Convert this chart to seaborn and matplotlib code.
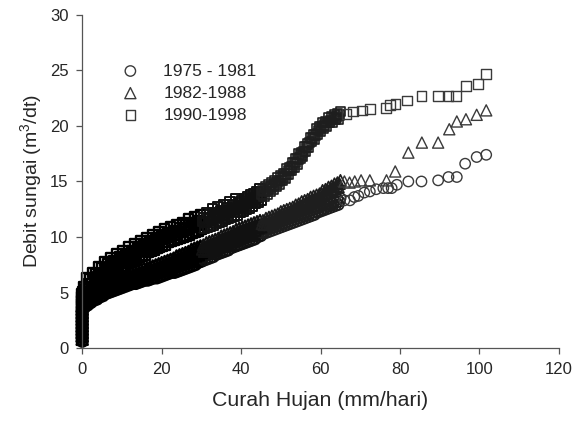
import numpy as np
import pandas as pd
import matplotlib
matplotlib.use('Agg')
import matplotlib.pyplot as plt
import seaborn as sns

# Curah hujan harian (mm/hari) - kelas yang dipakai bersama oleh ketiga periode
curah = [0.5, 1.0, 1.5, 2.0, 2.5, 3.0, 3.5, 4.0, 4.5, 5.0,
         5.5, 6.0, 6.5, 7.0, 7.5, 8.0, 8.5, 9.0, 9.5, 10.0,
         10.5, 11.0, 11.5, 12.0, 12.5, 13.0, 13.5, 14.0, 14.5, 15.0,
         15.5, 16.0, 16.5, 17.0, 17.5, 18.0, 18.5, 19.0, 19.5, 20.0,
         20.5, 21.0, 21.5, 22.0, 22.5, 23.0, 23.5, 24.0, 24.5, 25.0,
         25.5, 26.0, 26.5, 27.0, 27.5, 28.0, 28.5, 29.0, 29.5, 30.0,
         30.5, 31.0, 31.5, 32.0, 32.5, 33.0, 33.5, 34.0, 34.5, 35.0,
         35.5, 36.0, 36.5, 37.0, 37.5, 38.0, 38.5, 39.0, 39.5, 40.0,
         40.5, 41.0, 41.5, 42.0, 42.5, 43.0, 43.5, 44.0, 44.5, 45.0,
         45.5, 46.0, 46.5, 47.0, 47.5, 48.0, 48.5, 49.0, 49.5, 50.0,
         50.5, 51.0, 51.5, 52.0, 52.5, 53.0, 53.5, 54.0, 54.5, 55.0,
         55.5, 56.0, 56.5, 57.0, 57.5, 58.0, 58.5, 59.0, 59.5, 60.0,
         60.5, 61.0, 61.5, 62.0, 62.5, 63.0, 63.5, 64.0, 64.5, 65.0]

# Debit (m3/dt) periode 1975 - 1981
debit_75 = [4.3, 4.1, 3.9, 4.8, 4.5, 4.3, 5.1, 4.9, 4.6, 5.4,
            5.1, 4.9, 5.6, 5.4, 5.1, 5.9, 5.6, 5.3, 6.1, 5.8,
            5.5, 6.3, 6.0, 5.7, 6.4, 6.1, 5.8, 6.6, 6.3, 6.0,
            6.8, 6.4, 6.1, 6.9, 6.6, 6.3, 7.0, 6.7, 6.4, 7.2,
            6.9, 6.6, 7.3, 7.0, 6.8, 7.5, 7.2, 6.9, 7.7, 7.4,
            7.1, 7.9, 7.6, 7.3, 8.1, 7.8, 7.5, 8.3, 8.0, 7.8,
            8.5, 8.3, 8.0, 8.8, 8.5, 8.2, 9.0, 8.7, 8.5, 9.3,
            9.0, 8.7, 9.5, 9.2, 9.0, 9.7, 9.5, 9.2, 10.0, 9.7,
            9.4, 10.2, 9.9, 9.6, 10.4, 10.1, 9.8, 10.6, 10.3, 10.1,
            10.7, 10.5, 10.4, 10.9, 10.8, 10.6, 11.1, 11.0, 10.8, 11.4,
            11.2, 11.0, 11.6, 11.4, 11.2, 11.8, 11.6, 11.4, 12.0, 11.8,
            11.6, 12.2, 12.0, 11.8, 12.4, 12.2, 12.0, 12.6, 12.4, 12.3,
            12.8, 12.6, 12.5, 13.0, 12.9, 12.7, 13.2, 13.1, 12.9, 13.5]

# Debit (m3/dt) periode 1982-1988
debit_82 = [4.6, 4.5, 4.3, 5.2, 4.9, 4.7, 5.4, 5.2, 5.0, 5.8,
            5.5, 5.2, 5.9, 5.7, 5.4, 6.2, 5.9, 5.6, 6.4, 6.1,
            5.8, 6.6, 6.3, 6.0, 6.8, 6.5, 6.2, 7.0, 6.7, 6.4,
            7.2, 6.9, 6.6, 7.3, 7.0, 6.7, 7.5, 7.2, 6.9, 7.7,
            7.4, 7.1, 7.9, 7.6, 7.4, 8.1, 7.9, 7.6, 8.4, 8.1,
            7.8, 8.6, 8.3, 8.1, 8.9, 8.6, 8.3, 9.1, 8.8, 8.6,
            9.3, 9.1, 8.8, 9.6, 9.3, 9.0, 9.8, 9.5, 9.3, 10.1,
            9.8, 9.5, 10.3, 10.0, 9.8, 10.5, 10.3, 10.0, 10.8, 10.5,
            10.2, 11.0, 10.7, 10.4, 11.2, 10.9, 10.6, 11.4, 11.1, 10.9,
            11.5, 11.4, 11.2, 11.8, 11.6, 11.4, 12.0, 11.8, 11.7, 12.3,
            12.1, 11.9, 12.5, 12.3, 12.2, 12.7, 12.6, 12.4, 13.0, 12.8,
            12.7, 13.3, 13.1, 13.0, 13.6, 13.4, 13.2, 13.8, 13.6, 13.5,
            14.2, 14.0, 13.9, 14.5, 14.3, 14.2, 14.8, 14.6, 14.5, 15.1]

# Debit (m3/dt) periode 1990-1998
debit_90 = [5.5, 5.3, 5.0, 6.2, 5.8, 5.5, 6.7, 6.4, 6.0, 7.2,
            6.8, 6.5, 7.6, 7.2, 6.8, 7.9, 7.5, 7.1, 8.2, 7.8,
            7.4, 8.5, 8.1, 7.7, 8.8, 8.4, 8.0, 9.1, 8.7, 8.3,
            9.4, 9.0, 8.6, 9.7, 9.3, 8.8, 9.9, 9.5, 9.1, 10.2,
            9.8, 9.3, 10.4, 10.0, 9.6, 10.6, 10.2, 9.8, 10.8, 10.4,
            10.0, 11.1, 10.6, 10.2, 11.3, 10.9, 10.4, 11.5, 11.1, 10.7,
            11.7, 11.3, 10.9, 12.0, 11.5, 11.1, 12.2, 11.8, 11.3, 12.4,
            12.0, 11.6, 12.6, 12.2, 11.8, 12.9, 12.5, 12.0, 13.1, 12.7,
            12.3, 13.4, 13.0, 12.6, 13.8, 13.4, 13.0, 14.1, 13.7, 13.3,
            14.2, 14.1, 13.9, 14.7, 14.5, 14.3, 15.1, 14.9, 14.8, 15.5,
            15.4, 15.3, 16.1, 16.0, 16.0, 16.7, 16.7, 16.6, 17.5, 17.4,
            17.3, 18.1, 18.1, 18.1, 18.9, 18.9, 18.8, 19.7, 19.6, 19.5,
            20.3, 20.1, 20.0, 20.7, 20.5, 20.3, 21.0, 20.8, 20.6, 21.3]

# kelas curah hujan sela (data harian yang bertumpuk rapat)
curah_sela = [0.25, 0.75, 1.25, 1.75, 2.25, 2.75, 3.25, 3.75, 4.25, 4.75,
              5.25, 5.75, 6.25, 6.75, 7.25, 7.75, 8.25, 8.75, 9.25, 9.75,
              10.25, 10.75, 11.25, 11.75, 12.25, 12.75, 13.25, 13.75, 14.25, 14.75,
              15.25, 15.75, 16.25, 16.75, 17.25, 17.75, 18.25, 18.75, 19.25, 19.75,
              20.25, 20.75, 21.25, 21.75, 22.25, 22.75, 23.25, 23.75, 24.25, 24.75,
              25.25, 25.75, 26.25, 26.75, 27.25, 27.75, 28.25, 28.75, 29.25, 29.75,
              30.25, 30.75, 31.25, 31.75, 32.25, 32.75, 33.25, 33.75, 34.25, 34.75,
              35.25, 35.75, 36.25, 36.75, 37.25, 37.75, 38.25, 38.75, 39.25, 39.75,
              40.25, 40.75, 41.25, 41.75, 42.25, 42.75, 43.25, 43.75, 44.25, 44.75,
              45.25, 45.75, 46.25, 46.75, 47.25, 47.75, 48.25, 48.75, 49.25, 49.75,
              50.25, 50.75, 51.25, 51.75, 52.25, 52.75, 53.25, 53.75, 54.25, 54.75,
              55.25, 55.75, 56.25, 56.75, 57.25, 57.75, 58.25, 58.75, 59.25, 59.75,
              60.25, 60.75, 61.25, 61.75, 62.25, 62.75, 63.25, 63.75, 64.25, 64.75]

sela_75 = [3.8, 3.7, 4.5, 4.3, 4.1, 4.9, 4.7, 4.4, 5.3, 5.0,
           4.7, 5.5, 5.2, 5.0, 5.7, 5.5, 5.2, 6.0, 5.7, 5.4,
           6.2, 5.9, 5.6, 6.4, 6.1, 5.8, 6.5, 6.2, 5.9, 6.7,
           6.4, 6.1, 6.8, 6.5, 6.2, 7.0, 6.7, 6.3, 7.1, 6.8,
           6.5, 7.2, 7.0, 6.7, 7.4, 7.1, 6.8, 7.6, 7.3, 7.0,
           7.8, 7.5, 7.2, 8.0, 7.7, 7.4, 8.2, 7.9, 7.7, 8.4,
           8.1, 7.9, 8.7, 8.4, 8.1, 8.9, 8.6, 8.4, 9.1, 8.9,
           8.6, 9.4, 9.1, 8.8, 9.6, 9.3, 9.1, 9.9, 9.6, 9.3,
           10.1, 9.8, 9.5, 10.3, 10.0, 9.7, 10.5, 10.2, 10.0, 10.7,
           10.4, 10.3, 10.8, 10.7, 10.5, 11.0, 10.9, 10.7, 11.3, 11.1,
           10.9, 11.5, 11.3, 11.1, 11.7, 11.5, 11.3, 11.9, 11.7, 11.5,
           12.1, 11.9, 11.7, 12.3, 12.1, 11.9, 12.5, 12.3, 12.2, 12.7,
           12.5, 12.4, 12.9, 12.8, 12.6, 13.1, 13.0, 12.8, 13.4, 13.2]

sela_82 = [4.1, 4.0, 4.9, 4.7, 4.5, 5.3, 5.0, 4.8, 5.6, 5.4,
           5.1, 5.8, 5.5, 5.3, 6.0, 5.8, 5.5, 6.3, 6.0, 5.7,
           6.5, 6.2, 5.9, 6.7, 6.4, 6.1, 6.9, 6.6, 6.3, 7.1,
           6.8, 6.5, 7.2, 7.0, 6.7, 7.4, 7.1, 6.8, 7.6, 7.3,
           7.0, 7.8, 7.5, 7.2, 8.0, 7.7, 7.5, 8.3, 8.0, 7.7,
           8.5, 8.2, 8.0, 8.7, 8.5, 8.2, 9.0, 8.7, 8.4, 9.2,
           8.9, 8.7, 9.5, 9.2, 8.9, 9.7, 9.4, 9.2, 9.9, 9.7,
           9.4, 10.2, 9.9, 9.6, 10.4, 10.1, 9.9, 10.7, 10.4, 10.1,
           10.9, 10.6, 10.3, 11.1, 10.8, 10.5, 11.3, 11.0, 10.8, 11.5,
           11.2, 11.1, 11.7, 11.5, 11.3, 11.9, 11.7, 11.6, 12.1, 12.0,
           11.8, 12.4, 12.2, 12.0, 12.6, 12.4, 12.3, 12.9, 12.7, 12.5,
           13.2, 13.0, 12.9, 13.4, 13.3, 13.1, 13.7, 13.5, 13.3, 13.9,
           13.9, 13.7, 14.3, 14.2, 14.0, 14.6, 14.5, 14.3, 14.9, 14.8]

sela_90 = [5.1, 4.7, 6.3, 5.8, 5.2, 6.8, 6.2, 5.8, 7.3, 6.7,
           6.3, 7.8, 7.2, 6.6, 8.1, 7.6, 7.0, 8.5, 7.9, 7.3,
           8.8, 8.2, 7.6, 9.1, 8.5, 7.9, 9.4, 8.8, 8.2, 9.7,
           9.1, 8.4, 9.9, 9.3, 8.7, 10.2, 9.6, 9.0, 10.5, 9.9,
           9.2, 10.7, 10.1, 9.5, 10.9, 10.3, 9.7, 11.1, 10.5, 9.9,
           11.3, 10.7, 10.1, 11.6, 10.9, 10.3, 11.8, 11.2, 10.5, 12.0,
           11.4, 10.8, 12.2, 11.6, 11.0, 12.5, 11.8, 11.2, 12.7, 12.1,
           11.4, 12.9, 12.3, 11.7, 13.2, 12.5, 11.9, 13.4, 12.8, 12.2,
           13.3, 12.9, 12.5, 13.6, 13.2, 12.8, 13.9, 13.5, 13.1, 14.3,
           13.9, 13.7, 14.5, 14.3, 14.1, 14.9, 14.7, 14.6, 15.3, 15.1,
           15.1, 15.7, 15.7, 15.7, 16.2, 16.3, 16.3, 17.0, 17.0, 17.1,
           17.6, 17.7, 17.7, 18.4, 18.5, 18.6, 19.2, 19.2, 19.3, 19.9,
           19.9, 19.8, 20.4, 20.3, 20.3, 20.8, 20.7, 20.6, 21.1, 21.0]

# hari tanpa hujan (curah hujan = 0)
kering_x_75 = [0, 0, 0, 0, 0, 0, 0, 0, 0, 0, 0]
kering_y_75 = [0.6, 0.9, 1.2, 1.5, 1.8, 2.1, 2.4, 2.7, 3.0, 3.3, 3.6]
kering_x_82 = [0, 0, 0, 0, 0, 0, 0, 0, 0, 0, 0]
kering_y_82 = [0.8, 1.1, 1.4, 1.7, 2.0, 2.3, 2.6, 2.9, 3.2, 3.5, 3.8]
kering_x_90 = [0, 0, 0, 0, 0, 0, 0, 0, 0, 0, 0, 0, 0, 0, 0]
kering_y_90 = [0.7, 1.0, 1.3, 1.6, 1.9, 2.2, 2.5, 2.8, 3.1, 3.4, 3.7, 4.0, 4.3, 4.6, 4.9]

# hujan lebat (titik-titik jarang di kanan)
lebat_x_75 = [66.0, 67.4, 68.5, 69.5, 71.0, 72.4, 74.0, 75.8, 77.0, 77.9,
              79.2, 82.1, 85.4, 89.6, 92.2, 94.3, 96.4, 99.3, 101.7]
lebat_y_75 = [13.3, 13.3, 13.6, 13.7, 14.0, 14.1, 14.3, 14.4, 14.4, 14.4,
              14.7, 15.0, 15.0, 15.1, 15.4, 15.4, 16.6, 17.2, 17.4]
lebat_x_82 = [66.0, 67.3, 68.6, 70.2, 72.4, 76.6, 78.8, 82.1, 85.5, 89.6,
              92.4, 94.3, 96.6, 99.3, 101.7]
lebat_y_82 = [15.0, 14.9, 15.0, 15.1, 15.1, 15.1, 15.9, 17.6, 18.5, 18.5,
              19.7, 20.4, 20.6, 21.0, 21.4]
lebat_x_90 = [66.5, 68.1, 70.5, 72.4, 76.5, 77.5, 78.9, 81.8, 85.4, 89.6,
              92.2, 94.1, 96.6, 99.6, 101.7]
lebat_y_90 = [21.1, 21.3, 21.4, 21.5, 21.6, 21.9, 22.0, 22.3, 22.7, 22.7,
              22.7, 22.7, 23.6, 23.8, 24.7]

periode = ['1975 - 1981', '1982-1988', '1990-1998']


def satu_periode(label, kx, ky, y, ys, lx, ly):
    rapat = pd.DataFrame({'Curah': kx + curah + curah_sela,
                          'Debit': ky + y + ys, 'Periode': label})
    jarang = pd.DataFrame({'Curah': lx, 'Debit': ly, 'Periode': label})
    return pd.concat([rapat, jarang], ignore_index=True)


df = pd.concat([
    satu_periode(periode[0], kering_x_75, kering_y_75, debit_75, sela_75, lebat_x_75, lebat_y_75),
    satu_periode(periode[1], kering_x_82, kering_y_82, debit_82, sela_82, lebat_x_82, lebat_y_82),
    satu_periode(periode[2], kering_x_90, kering_y_90, debit_90, sela_90, lebat_x_90, lebat_y_90),
], ignore_index=True)

sns.set_style('ticks')
plt.rcParams['font.family'] = ['Liberation Sans', 'DejaVu Sans']
plt.rcParams['mathtext.default'] = 'regular'

fig = plt.figure(figsize=(5.75, 4.23), dpi=100)
ax = fig.add_axes([0.143, 0.177, 0.829, 0.788])

gaya = {periode[0]: ('o', 56), periode[1]: ('^', 64), periode[2]: ('s', 48)}
# ketebalan garis tepi: makin ke kanan titik makin jarang dan makin tipis
lapis = [(df['Curah'] <= 30, 'black', 1.7),
         ((df['Curah'] > 30) & (df['Curah'] <= 45), '#111111', 1.4),
         ((df['Curah'] > 45) & (df['Curah'] <= 65), '#1e1e1e', 1.2),
         (df['Curah'] > 65, '#3a3a3a', 1.0)]
for p in periode:
    m, s = gaya[p]
    for k, (pilih, warna, lw) in enumerate(lapis):
        sns.scatterplot(data=df[pilih & (df['Periode'] == p)], x='Curah', y='Debit', ax=ax,
                        marker=m, s=s, facecolors='none', edgecolor=warna,
                        linewidth=lw, clip_on=False, label=p if k == 3 else None)

ax.set_xlim(0, 120)
ax.set_ylim(0, 30)
ax.set_xticks([0, 20, 40, 60, 80, 100, 120])
ax.set_yticks([0, 5, 10, 15, 20, 25, 30])
for sp in ['left', 'bottom']:
    ax.spines[sp].set_color('#555555')
    ax.spines[sp].set_linewidth(0.9)
sns.despine(ax=ax)
ax.tick_params(axis='both', direction='out', length=4, width=0.9,
               color='#555555', labelsize=12, pad=6)

ax.set_xlabel('Curah Hujan (mm/hari)', fontsize=15.3, labelpad=10)
ax.set_ylabel('Debit sungai (m$^3$/dt)', fontsize=14, labelpad=4)

ax.legend(loc='upper left', bbox_to_anchor=(0.05, 0.875), frameon=False,
          fontsize=12.5, handletextpad=0.9, labelspacing=0.4, borderaxespad=0)

fig.savefig('out.png', dpi=100)
